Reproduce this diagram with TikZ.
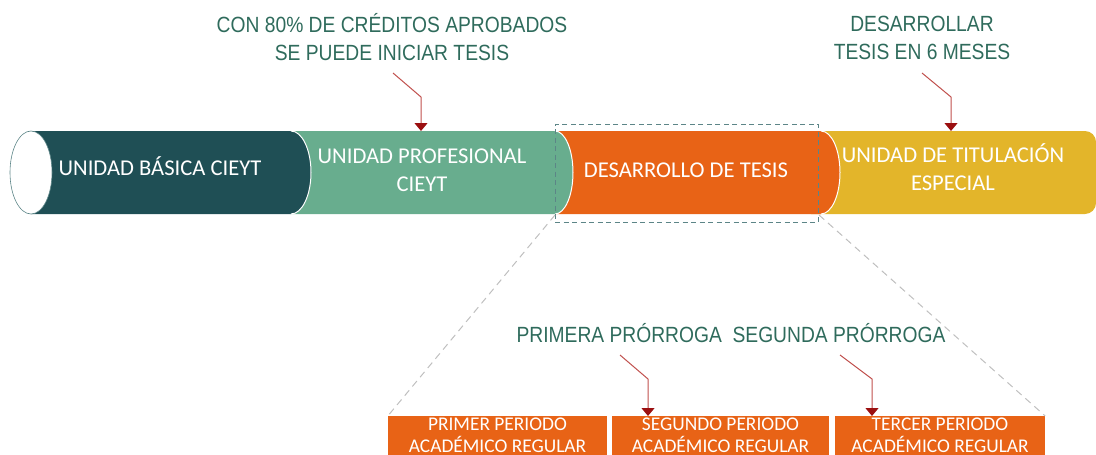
\documentclass[tikz,border=0pt]{standalone}
\usepackage{fontspec}
\setmainfont{Carlito}
\newfontfamily\annotfont[FakeStretch=0.875]{Liberation Sans}
\usetikzlibrary{arrows.meta}
\definecolor{tealdark}{HTML}{1F4F55}
\definecolor{seagreen}{HTML}{68AD8E}
\definecolor{orng}{HTML}{E86316}
\definecolor{gold}{HTML}{E3B52A}
\definecolor{annot}{HTML}{2F6B5C}
\definecolor{linered}{HTML}{C0504D}
\definecolor{headred}{HTML}{9B0F10}
\definecolor{dashteal}{HTML}{5C8587}
\definecolor{zoomgray}{HTML}{BFBFBF}
\begin{document}
\begin{tikzpicture}[x=1pt,y=1pt,
 segtext/.style={text=white, font=\fontsize{22.6}{28}\selectfont, align=center, inner sep=0pt},
 annottext/.style={text=annot, font=\annotfont\fontsize{22}{28}\selectfont, align=center, inner sep=0pt},
 periodbox/.style={fill=orng, text=white, font=\fontsize{19.4}{22}\selectfont, align=center, inner sep=0pt, minimum height=39pt, anchor=north},
 pointer/.style={draw=linered, line width=1pt, -{Triangle[width=13pt,length=8pt,color=headred]}},
 zoomline/.style={draw=zoomgray, line width=1pt, dash pattern=on 7pt off 5pt},
 zoomframe/.style={draw=dashteal, line width=1pt, dash pattern=on 5pt off 3.5pt, minimum width=263pt, minimum height=98pt, inner sep=0pt},
 bulge/.style={draw=white, line width=1pt}]
\useasboundingbox (0,0) rectangle (1096,-455);
% tube segments, right to left
\fill[gold, rounded corners=11pt] (800,-131) rectangle (1096,-214);
\fill[orng] (555,-131) -- (821,-131) arc[start angle=90, end angle=-90, x radius=19pt, y radius=41.5pt] -- (555,-214) -- cycle;
\draw[bulge] (821,-131) arc[start angle=90, end angle=-90, x radius=19pt, y radius=41.5pt];
\fill[seagreen] (291,-131) -- (555,-131) arc[start angle=90, end angle=-90, x radius=18pt, y radius=41.5pt] -- (291,-214) -- cycle;
\draw[bulge] (555,-131) arc[start angle=90, end angle=-90, x radius=18pt, y radius=41.5pt];
\fill[tealdark] (31,-131) -- (291,-131) arc[start angle=90, end angle=-90, x radius=20pt, y radius=41.5pt] -- (31,-214) -- cycle;
\draw[bulge] (291,-131) arc[start angle=90, end angle=-90, x radius=20pt, y radius=41.5pt];
\draw[draw=dashteal, fill=white, line width=0.6pt] (31,-172.5) ellipse [x radius=21pt, y radius=41.5pt];
% segment labels
\node[segtext, anchor=base] (s1) at (160,-175) {UNIDAD BÁSICA CIEYT};
\node[segtext, anchor=base] (s2) at (422,-191) {UNIDAD PROFESIONAL\\CIEYT};
\node[segtext, anchor=base] (s3) at (686,-177) {DESARROLLO DE TESIS};
\node[segtext, anchor=base] (s4) at (953,-190) {UNIDAD DE TITULACIÓN\\ESPECIAL};
% zoom frame
\node[zoomframe] (zf) at (686.5,-173) {};
\coordinate (zl) at (555,-215);
\coordinate (zr) at (819,-215);
% period boxes
\node[periodbox, minimum width=219pt] (p1) at (497.5,-416) {PRIMER PERIODO\\ACADÉMICO REGULAR};
\node[periodbox, minimum width=217pt] (p2) at (720.5,-416) {SEGUNDO PERIODO\\ACADÉMICO REGULAR};
\node[periodbox, minimum width=210pt] (p3) at (940,-416) {TERCER PERIODO\\ACADÉMICO REGULAR};
\draw[zoomline] (zl) -- (p1.north west);
\draw[zoomline] (zr) -- (p3.north east);
% annotations
\node[annottext, anchor=base] (a1) at (392,-60) {CON 80\% DE CRÉDITOS APROBADOS\\SE PUEDE INICIAR TESIS};
\node[annottext, anchor=base] (a2) at (922,-59) {DESARROLLAR\\TESIS EN 6 MESES};
\node[annottext, anchor=base] (a3) at (731,-342) {PRIMERA PRÓRROGA~ SEGUNDA PRÓRROGA};
% pointers
\coordinate (a1s) at (393,-73); \coordinate (a1k) at (421,-97); \coordinate (a1e) at (421,-131);
\coordinate (a2s) at (922,-73); \coordinate (a2k) at (951,-97); \coordinate (a2e) at (951,-131);
\coordinate (a3s) at (620,-355); \coordinate (a3k) at (648,-379); \coordinate (a3e) at (648,-416);
\coordinate (a4s) at (840,-355); \coordinate (a4k) at (872,-379); \coordinate (a4e) at (872,-416);
\draw[pointer] (a1s) -- (a1k) -- (a1e);
\draw[pointer] (a2s) -- (a2k) -- (a2e);
\draw[pointer] (a3s) -- (a3k) -- (a3e);
\draw[pointer] (a4s) -- (a4k) -- (a4e);
\end{tikzpicture}
\end{document}
